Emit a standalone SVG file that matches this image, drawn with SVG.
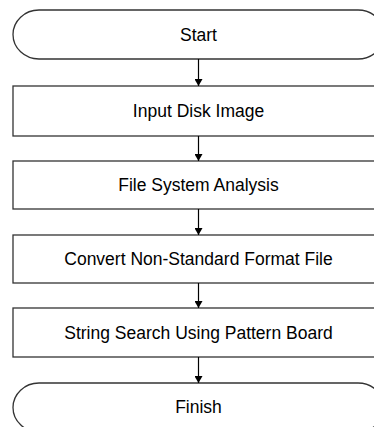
<svg xmlns="http://www.w3.org/2000/svg" width="374" height="427" viewBox="0 0 374 427">
<defs>
<style>
.shape{fill:#fff;stroke:#333;stroke-width:1.3}
.lbl{font-family:"Liberation Sans",Arial,sans-serif;font-size:17.5px;fill:#000;text-anchor:middle}
.conn{stroke:#000;stroke-width:1.2;fill:none}
</style>
<marker id="ah" markerWidth="8" markerHeight="8" refX="7" refY="4" orient="auto" markerUnits="userSpaceOnUse">
<path d="M0,0 L7,4 L0,8 Z" fill="#000"/>
</marker>
</defs>
<rect width="374" height="427" fill="#fff"/>
<g id="start"><rect class="shape" x="13" y="10" width="371" height="49" rx="26" ry="24.5"/><text class="lbl" x="198.5" y="41">Start</text></g>
<g id="input"><rect class="shape" x="13" y="86" width="371" height="50"/><text class="lbl" x="198.5" y="117">Input Disk Image</text></g>
<g id="fsa"><rect class="shape" x="13" y="161" width="371" height="48"/><text class="lbl" x="198.5" y="191">File System Analysis</text></g>
<g id="convert"><rect class="shape" x="13" y="235" width="371" height="48"/><text class="lbl" x="198.5" y="265">Convert Non-Standard Format File</text></g>
<g id="search"><rect class="shape" x="13" y="308" width="371" height="49"/><text class="lbl" x="198.5" y="339">String Search Using Pattern Board</text></g>
<g id="finish"><rect class="shape" x="13" y="383" width="371" height="49" rx="26" ry="24.5"/><text class="lbl" x="198.5" y="413">Finish</text></g>
<g id="connectors">
<line class="conn" x1="198.5" y1="59" x2="198.5" y2="86" marker-end="url(#ah)"/>
<line class="conn" x1="198.5" y1="136" x2="198.5" y2="161" marker-end="url(#ah)"/>
<line class="conn" x1="198.5" y1="209" x2="198.5" y2="235" marker-end="url(#ah)"/>
<line class="conn" x1="198.5" y1="283" x2="198.5" y2="308" marker-end="url(#ah)"/>
<line class="conn" x1="198.5" y1="357" x2="198.5" y2="383" marker-end="url(#ah)"/>
</g>
</svg>
